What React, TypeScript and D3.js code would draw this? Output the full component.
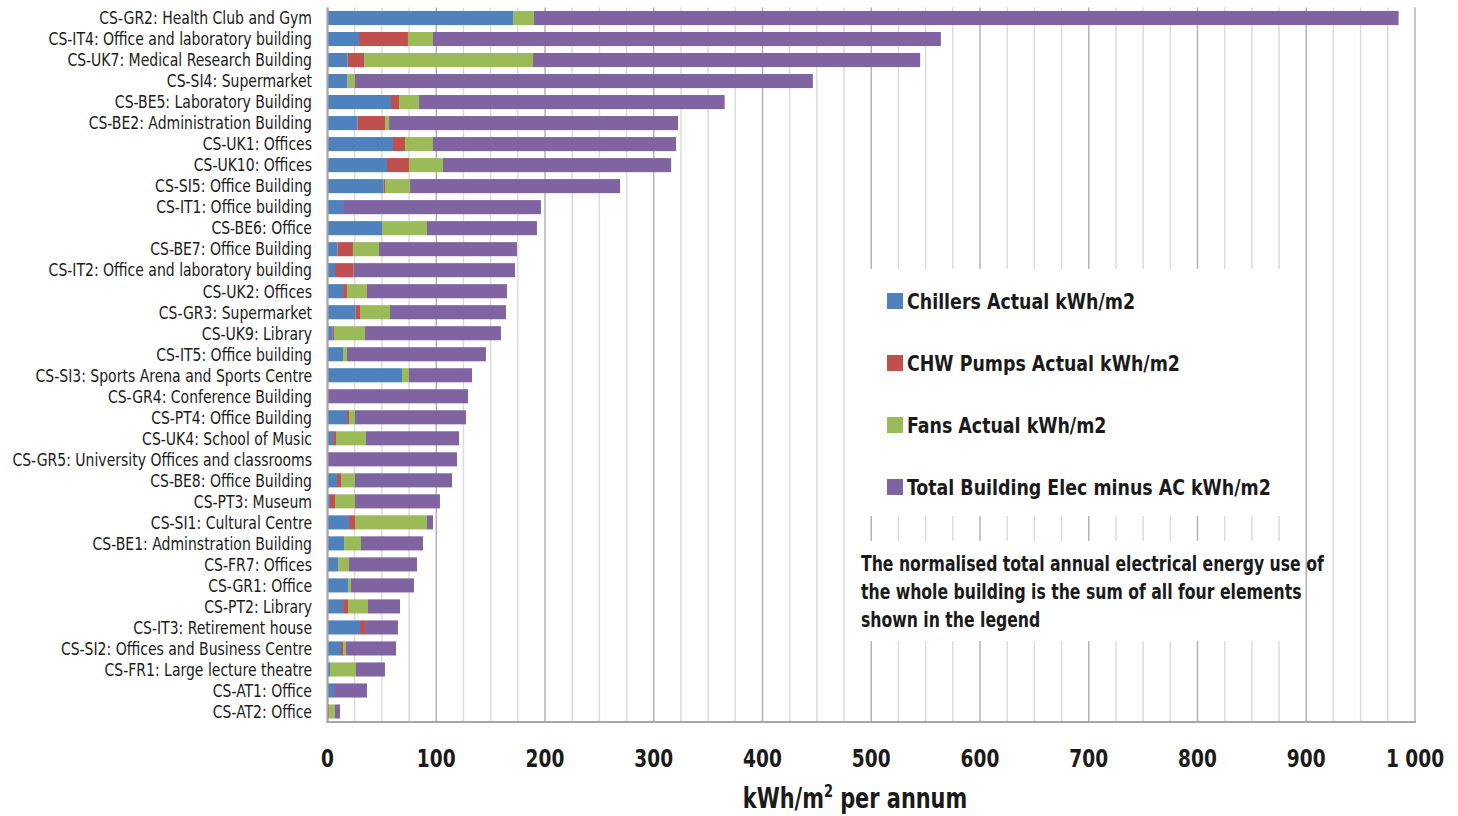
import React from "react";
import * as d3 from "d3";

const categories = [
  "CS-GR2: Health Club and Gym",
  "CS-IT4: Office and laboratory building",
  "CS-UK7: Medical Research Building",
  "CS-SI4: Supermarket",
  "CS-BE5: Laboratory Building",
  "CS-BE2: Administration Building",
  "CS-UK1: Offices",
  "CS-UK10: Offices",
  "CS-SI5: Office Building",
  "CS-IT1: Office building",
  "CS-BE6: Office",
  "CS-BE7: Office Building",
  "CS-IT2: Office and laboratory building",
  "CS-UK2: Offices",
  "CS-GR3: Supermarket",
  "CS-UK9: Library",
  "CS-IT5: Office building",
  "CS-SI3: Sports Arena and Sports Centre",
  "CS-GR4: Conference Building",
  "CS-PT4: Office Building",
  "CS-UK4: School of Music",
  "CS-GR5: University Offices and classrooms",
  "CS-BE8: Office Building",
  "CS-PT3: Museum",
  "CS-SI1: Cultural Centre",
  "CS-BE1: Adminstration Building",
  "CS-FR7: Offices",
  "CS-GR1: Office",
  "CS-PT2: Library",
  "CS-IT3: Retirement house",
  "CS-SI2: Offices and Business Centre",
  "CS-FR1: Large lecture theatre",
  "CS-AT1: Office",
  "CS-AT2: Office",
];

const chillers = [170.6, 29, 18.5, 18.5, 58.4, 27.7, 60.2, 54.7, 51.6, 14.3, 50.1, 9.3, 6.9, 14.3, 25.9, 4.8, 14.3, 68.5, 0, 17.9, 5.1, 0, 8.7, 2.3, 19.8, 15.2, 9.7, 18.9, 14.3, 29.9, 12.4, 2.3, 6.0, 0];
const pumps = [0, 45, 15.1, 0, 7.4, 25.2, 11.1, 20.2, 1.3, 0, 0, 14.1, 17.1, 3.6, 4.0, 1.2, 0, 0, 0, 1.9, 2.7, 0, 3.7, 4.6, 5.5, 0, 0, 0, 4.6, 4.6, 1.9, 0, 0, 1.5];
const fans = [19.3, 23, 155.4, 6.8, 18.4, 3.7, 25.7, 31.3, 23.0, 0, 41.4, 24.0, 0, 18.4, 27.6, 28.5, 3.6, 6.4, 0, 5.5, 27.6, 0, 12.9, 18.4, 66.2, 15.6, 10.1, 2.7, 18.3, 0, 2.7, 23.9, 0, 5.4];
const other = [795, 467, 356, 421, 281, 265.7, 223.5, 209.8, 193.1, 182, 101.1, 126.8, 148.4, 128.7, 106.6, 125, 127.8, 58, 129.2, 102.1, 85.6, 119.1, 89.2, 78.1, 5.5, 57, 62.5, 57.9, 29.5, 30.3, 46, 26.7, 30.3, 4.6];

const seriesNames = [
  "Chillers Actual kWh/m2",
  "CHW Pumps Actual kWh/m2",
  "Fans Actual kWh/m2",
  "Total Building Elec minus AC kWh/m2",
];
const seriesColors = ["#4F81BD", "#C0504D", "#9BBB59", "#8064A2"];

const xTicks = [0, 100, 200, 300, 400, 500, 600, 700, 800, 900, 1000];
const noteLines = [
  "The normalised total annual electrical energy use of",
  "the whole building is the sum of all four elements",
  "shown in the legend",
];

const FONT = "'DejaVu Sans Condensed', 'Liberation Sans Narrow', Arial, sans-serif";

function CText(props: {
  x: number;
  y: number;
  sx: number;
  size: number;
  bold?: boolean;
  anchor?: string;
  children: React.ReactNode;
}) {
  return (
    <g transform={`translate(${props.x},${props.y}) scale(${props.sx},1)`}>
      <text
        x={0}
        y={0}
        dy="0.36em"
        textAnchor={props.anchor || "start"}
        fontSize={props.size}
        fontWeight={props.bold ? "bold" : "normal"}
        fill="#1a1a1a"
      >
        {props.children}
      </text>
    </g>
  );
}

export default function App() {
  const W = 1458;
  const H = 816;
  const x = d3.scaleLinear().domain([0, 1000]).range([327.5, 1415]);
  const y = d3.scaleBand<string>().domain(categories).range([7.5, 722]).paddingInner(0.33).paddingOuter(0.165);

  const rows = categories.map((c, i) => ({
    cat: c,
    chillers: chillers[i],
    pumps: pumps[i],
    fans: fans[i],
    other: other[i],
  }));
  const keys = ["chillers", "pumps", "fans", "other"];
  const stacked = d3.stack<any>().keys(keys)(rows);

  const minor = d3.range(0, 1001, 25);
  const fmt = (v: number) => (v >= 1000 ? d3.format(",")(v).replace(",", " ") : String(v));

  const legendY = [301, 363, 425, 487];

  return (
    <svg width={W} height={H} style={{ position: "absolute", left: 0, top: 0, background: "#fff" }} fontFamily={FONT}>
      <rect x={0} y={0} width={W} height={H} fill="#fff" />
      {minor.map((v) => (
        <line
          key={v}
          x1={x(v)}
          x2={x(v)}
          y1={7.5}
          y2={722}
          stroke={v % 100 === 0 ? "#b3b3b3" : "#dcdcdc"}
          strokeWidth={1.5}
        />
      ))}
      {stacked.map((s, si) => (
        <g key={si} fill={seriesColors[si]}>
          {s.map((d: any, i: number) => {
            const w = x(d[1]) - x(d[0]);
            if (w <= 0) return null;
            return <rect key={i} x={x(d[0])} y={y(categories[i])} width={w} height={y.bandwidth()} />;
          })}
        </g>
      ))}
      <line x1={x(0)} x2={x(0)} y1={7.5} y2={723} stroke="#a6a6a6" strokeWidth={2} />
      <line x1={x(0) - 1} x2={x(1000) + 1} y1={722} y2={722} stroke="#a6a6a6" strokeWidth={2} />
      {categories.map((c) => (
        <CText key={c} x={312} y={(y(c) as number) + y.bandwidth() / 2} sx={0.89} size={17.5} anchor="end">
          {c}
        </CText>
      ))}
      {xTicks.map((t) => (
        <CText key={t} x={x(t)} y={758} sx={0.86} size={24} bold anchor="middle">
          {fmt(t)}
        </CText>
      ))}
      <g transform="translate(855,798) scale(0.8,1)">
        <text x={0} y={0} dy="0.36em" textAnchor="middle" fontSize={29} fontWeight="bold" fill="#1a1a1a">
          kWh/m
          <tspan fontSize={18} dy={-11}>2</tspan>
          <tspan dy={11}> per annum</tspan>
        </text>
      </g>
      <rect x={846} y={269} width={454} height={247} fill="#fff" />
      {seriesNames.map((n, i) => (
        <g key={n}>
          <rect x={887} y={legendY[i] - 8} width={16} height={16} fill={seriesColors[i]} />
          <CText x={907} y={legendY[i]} sx={0.88} size={22} bold>
            {n}
          </CText>
        </g>
      ))}
      <rect x={846} y={541} width={454} height={100} fill="#fff" />
      {noteLines.map((l, i) => (
        <CText key={i} x={861} y={563 + i * 28} sx={0.83} size={21} bold>
          {l}
        </CText>
      ))}
    </svg>
  );
}
